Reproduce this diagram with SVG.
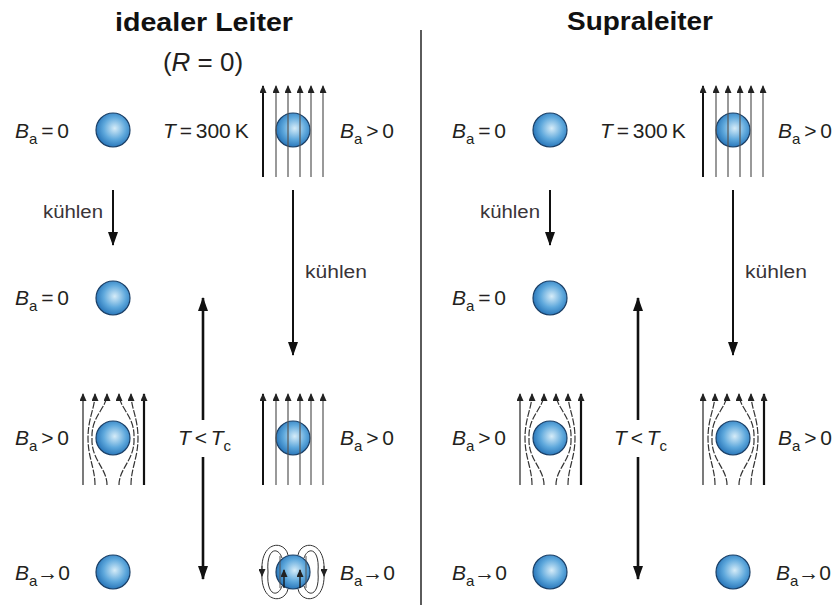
<svg xmlns="http://www.w3.org/2000/svg" width="836" height="605" viewBox="0 0 836 605">
  <defs>
    <radialGradient id="ball" cx="0.55" cy="0.45" r="0.6">
      <stop offset="0" stop-color="#d6ecf8"/>
      <stop offset="0.55" stop-color="#5ea8dc"/>
      <stop offset="1" stop-color="#1f6db3"/>
    </radialGradient>
    <marker id="fh" markerWidth="7" markerHeight="8" refX="3.5" refY="1" orient="0" markerUnits="userSpaceOnUse">
      <path d="M3.5,0 L7,8 L0,8 z" fill="#222"/>
    </marker>
    <marker id="ah" viewBox="0 0 14 10" markerWidth="14" markerHeight="10" refX="13" refY="5" orient="auto" markerUnits="userSpaceOnUse">
      <path d="M0,0 L14,5 L0,10 z" fill="#111"/>
    </marker>
    <marker id="dn" markerWidth="7" markerHeight="8" refX="3.5" refY="7" orient="0" markerUnits="userSpaceOnUse">
      <path d="M0,0 L7,0 L3.5,8 z" fill="#222"/>
    </marker>
    <circle id="sph" r="17" fill="url(#ball)" stroke="#1b3f66" stroke-width="1.2"/>
    <!-- field passing straight through the sample -->
    <g id="through">
      <use href="#sph"/>
      <g fill="none" marker-end="url(#fh)">
        <line x1="-30" y1="47" x2="-30" y2="-44" stroke="#111" stroke-width="2"/>
        <line x1="-17" y1="47" x2="-17" y2="-44" class="fl"/>
        <line x1="-5" y1="47" x2="-5" y2="-44" class="fl"/>
        <line x1="7" y1="47" x2="7" y2="-44" class="fl"/>
        <line x1="18" y1="47" x2="18" y2="-44" class="fl"/>
        <line x1="30" y1="47" x2="30" y2="-44" class="fl"/>
      </g>
    </g>
    <!-- field expelled around the sample -->
    <g id="expelled">
      <use href="#sph"/>
      <g fill="none" marker-end="url(#fh)">
        <line x1="-30" y1="47" x2="-30" y2="-44" stroke="#333" stroke-width="1.3"/>
        <path d="M-18,47 C-18,30 -25,20 -25,0 C-25,-20 -18,-30 -18,-44" class="fc"/>
        <path d="M-6,47 C-6,30 -22,22 -21,0 C-22,-22 -6,-30 -6,-44" class="fc"/>
        <path d="M6,47 C6,30 22,22 21,0 C22,-22 6,-30 6,-44" class="fc"/>
        <path d="M18,47 C18,30 25,20 25,0 C25,-20 18,-30 18,-44" class="fc"/>
        <line x1="31" y1="47" x2="31" y2="-44" stroke="#111" stroke-width="2.2"/>
      </g>
    </g>
    <!-- frozen-in flux: sample acts as a dipole -->
    <g id="dipole">
      <use href="#sph"/>
      <g fill="none" stroke="#333" stroke-width="1">
        <path d="M-5,-17 C-8,-32 -33,-32 -31,0 C-33,32 -8,32 -5,17"/>
        <path d="M-11,-14 C-15,-26 -27,-24 -25,0 C-27,24 -15,26 -11,14"/>
        <path d="M5,-17 C8,-32 33,-32 31,0 C33,32 8,32 5,17"/>
        <path d="M11,-14 C15,-26 27,-24 25,0 C27,24 15,26 11,14"/>
        <line x1="-13" y1="16" x2="-13" y2="-16" stroke="#555"/>
        <line x1="13" y1="16" x2="13" y2="-16" stroke="#555"/>
        <line x1="-9" y1="16" x2="-9" y2="-2" marker-end="url(#fh)" stroke="#111" stroke-width="1.3"/>
        <line x1="7" y1="16" x2="7" y2="-2" marker-end="url(#fh)" stroke="#111" stroke-width="1.3"/>
        <line x1="-31" y1="-6" x2="-31" y2="4" marker-end="url(#dn)"/>
        <line x1="31" y1="-6" x2="31" y2="4" marker-end="url(#dn)"/>
      </g>
    </g>
  </defs>
  <style>
    text { font-family: "Liberation Sans", Arial, sans-serif; fill: #231f20; }
    .title { font-size: 25px; font-weight: bold; fill: #111; }
    .lbl { font-size: 21px; word-spacing: -2px; }
    .sub { font-size: 15px; }
    .k { font-size: 18px; fill: #3a3438; }
    .fl { stroke: #555; stroke-width: 1.2; }
    .fc { stroke: #333; stroke-width: 1.2; stroke-dasharray: 7 1.6; }
    .arr { stroke: #111; stroke-width: 2; fill: none; }
    .big { stroke: #111; stroke-width: 2.6; fill: none; }
  </style>

  <!-- headings -->
  <g id="headings">
    <text class="title" x="115" y="31" textLength="178" lengthAdjust="spacingAndGlyphs">idealer Leiter</text>
    <text x="203" y="71" text-anchor="middle" style="font-size:26px">(<tspan font-style="italic">R</tspan> = 0)</text>
    <text class="title" x="567" y="30" textLength="146" lengthAdjust="spacingAndGlyphs">Supraleiter</text>
  </g>

  <line id="divider" x1="421" y1="30" x2="421" y2="605" stroke="#333" stroke-width="1.6"/>

  <!-- ideal conductor, left column -->
  <g id="ideal-a1">
    <text class="lbl" x="15" y="138"><tspan font-style="italic">B</tspan><tspan class="sub" dy="6">a</tspan><tspan dy="-6"> = 0</tspan></text>
    <use href="#sph" x="113" y="130"/>
  </g>
  <g id="ideal-a2">
    <text class="lbl" x="15" y="305"><tspan font-style="italic">B</tspan><tspan class="sub" dy="6">a</tspan><tspan dy="-6"> = 0</tspan></text>
    <use href="#sph" x="113" y="298"/>
  </g>
  <g id="ideal-a3">
    <text class="lbl" x="15" y="445"><tspan font-style="italic">B</tspan><tspan class="sub" dy="6">a</tspan><tspan dy="-6"> &gt; 0</tspan></text>
    <use href="#expelled" x="113" y="438"/>
  </g>
  <g id="ideal-a4">
    <text class="lbl" x="15" y="580"><tspan font-style="italic">B</tspan><tspan class="sub" dy="6">a</tspan><tspan dy="-6">→0</tspan></text>
    <use href="#sph" x="113" y="572"/>
  </g>

  <!-- ideal conductor, right column -->
  <g id="ideal-b1">
    <text class="lbl" x="163" y="138"><tspan font-style="italic">T</tspan> = 300 K</text>
    <use href="#through" x="293" y="130"/>
    <text class="lbl" x="340" y="138"><tspan font-style="italic">B</tspan><tspan class="sub" dy="6">a</tspan><tspan dy="-6"> &gt; 0</tspan></text>
  </g>
  <g id="ideal-b3">
    <use href="#through" x="293" y="438"/>
    <text class="lbl" x="340" y="445"><tspan font-style="italic">B</tspan><tspan class="sub" dy="6">a</tspan><tspan dy="-6"> &gt; 0</tspan></text>
  </g>
  <g id="ideal-b4">
    <use href="#dipole" x="293" y="572"/>
    <text class="lbl" x="340" y="580"><tspan font-style="italic">B</tspan><tspan class="sub" dy="6">a</tspan><tspan dy="-6">→0</tspan></text>
  </g>

  <!-- superconductor, left column -->
  <g id="supra-a1">
    <text class="lbl" x="452" y="138"><tspan font-style="italic">B</tspan><tspan class="sub" dy="6">a</tspan><tspan dy="-6"> = 0</tspan></text>
    <use href="#sph" x="550" y="130"/>
  </g>
  <g id="supra-a2">
    <text class="lbl" x="452" y="305"><tspan font-style="italic">B</tspan><tspan class="sub" dy="6">a</tspan><tspan dy="-6"> = 0</tspan></text>
    <use href="#sph" x="550" y="298"/>
  </g>
  <g id="supra-a3">
    <text class="lbl" x="452" y="445"><tspan font-style="italic">B</tspan><tspan class="sub" dy="6">a</tspan><tspan dy="-6"> &gt; 0</tspan></text>
    <use href="#expelled" x="550" y="438"/>
  </g>
  <g id="supra-a4">
    <text class="lbl" x="452" y="580"><tspan font-style="italic">B</tspan><tspan class="sub" dy="6">a</tspan><tspan dy="-6">→0</tspan></text>
    <use href="#sph" x="550" y="572"/>
  </g>

  <!-- superconductor, right column -->
  <g id="supra-b1">
    <text class="lbl" x="600" y="138"><tspan font-style="italic">T</tspan> = 300 K</text>
    <use href="#through" x="733" y="130"/>
    <text class="lbl" x="778" y="138"><tspan font-style="italic">B</tspan><tspan class="sub" dy="6">a</tspan><tspan dy="-6"> &gt; 0</tspan></text>
  </g>
  <g id="supra-b3">
    <use href="#expelled" x="733" y="438"/>
    <text class="lbl" x="778" y="445"><tspan font-style="italic">B</tspan><tspan class="sub" dy="6">a</tspan><tspan dy="-6"> &gt; 0</tspan></text>
  </g>
  <g id="supra-b4">
    <use href="#sph" x="733" y="572"/>
    <text class="lbl" x="776" y="580"><tspan font-style="italic">B</tspan><tspan class="sub" dy="6">a</tspan><tspan dy="-6">→0</tspan></text>
  </g>

  <!-- connectors: cooling steps and temperature range -->
  <g id="connectors">
    <line class="arr" x1="113" y1="190" x2="113" y2="245" marker-end="url(#ah)"/>
    <text class="k" x="43" y="218" textLength="60" lengthAdjust="spacingAndGlyphs">kühlen</text>
    <line class="arr" x1="293" y1="190" x2="293" y2="355" marker-end="url(#ah)"/>
    <text class="k" x="305" y="278" textLength="62" lengthAdjust="spacingAndGlyphs">kühlen</text>
    <line class="big" x1="203" y1="420" x2="203" y2="298" marker-end="url(#ah)"/>
    <line class="big" x1="203" y1="457" x2="203" y2="579" marker-end="url(#ah)"/>
    <text class="lbl" x="178" y="445"><tspan font-style="italic">T</tspan> &lt; <tspan font-style="italic">T</tspan><tspan class="sub" dy="6">c</tspan></text>

    <line class="arr" x1="550" y1="190" x2="550" y2="245" marker-end="url(#ah)"/>
    <text class="k" x="480" y="218" textLength="60" lengthAdjust="spacingAndGlyphs">kühlen</text>
    <line class="arr" x1="733" y1="190" x2="733" y2="355" marker-end="url(#ah)"/>
    <text class="k" x="745" y="278" textLength="62" lengthAdjust="spacingAndGlyphs">kühlen</text>
    <line class="big" x1="638" y1="420" x2="638" y2="298" marker-end="url(#ah)"/>
    <line class="big" x1="638" y1="457" x2="638" y2="579" marker-end="url(#ah)"/>
    <text class="lbl" x="614" y="445"><tspan font-style="italic">T</tspan> &lt; <tspan font-style="italic">T</tspan><tspan class="sub" dy="6">c</tspan></text>
  </g>
</svg>
